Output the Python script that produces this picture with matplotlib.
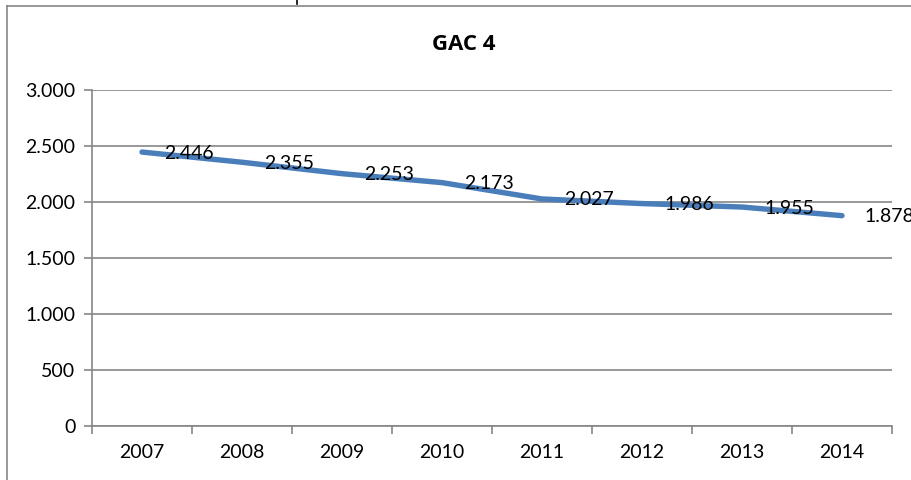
import matplotlib
matplotlib.use("Agg")
import matplotlib.pyplot as plt
from matplotlib.lines import Line2D

years = ["2007", "2008", "2009", "2010", "2011", "2012", "2013", "2014"]
values = [2446, 2355, 2253, 2173, 2027, 1986, 1955, 1878]
y_ticks = [0, 500, 1000, 1500, 2000, 2500, 3000]
y_tick_labels = ["0", "500", "1.000", "1.500", "2.000", "2.500", "3.000"]
title = "GAC 4"

W, H = 912, 480
plt.rcParams["font.family"] = ["Lato", "DejaVu Sans"]
grey = "#868686"
blue = "#4A7EBB"

fig = plt.figure(figsize=(W / 100, H / 100), dpi=100)
fig.patch.set_facecolor("white")

# chart frame (left and top edges visible)
fig.add_artist(Line2D([7 / W, 7 / W], [0, 1 - 6 / H], transform=fig.transFigure,
                      color=grey, lw=1.2))
fig.add_artist(Line2D([7 / W, 1], [1 - 6 / H, 1 - 6 / H], transform=fig.transFigure,
                      color=grey, lw=1.2))
fig.add_artist(Line2D([297 / W, 297 / W], [1, 1 - 4 / H], transform=fig.transFigure,
                      color="black", lw=1.2))

ax = fig.add_axes([92 / W, (H - 426) / H, 800 / W, 336 / H])
x = list(range(len(years)))
ax.plot(x, values, color=blue, lw=3.9, solid_capstyle="round", solid_joinstyle="round",
        zorder=3)
for xi, v in zip(x, values):
    lbl = f"{v:,}".replace(",", ".")
    ax.annotate(lbl, (xi, v), xytext=(22, -1), textcoords="offset pixels",
                ha="left", va="center", fontsize=14, color="black", zorder=4,
                annotation_clip=False)

ax.set_xlim(-0.5, len(years) - 0.5)
ax.set_ylim(0, 3000)
ax.set_yticks(y_ticks)
ax.set_yticklabels(y_tick_labels)
ax.set_xticks(x)
ax.set_xticklabels(years)
ax.set_xticks([i - 0.5 for i in range(len(years) + 1)], minor=True)
ax.tick_params(axis="x", which="major", length=0, pad=13, labelsize=14)
ax.tick_params(axis="x", which="minor", length=6, color=grey, width=1.2, direction="out")
ax.tick_params(axis="y", length=6, color=grey, width=1.2, pad=6, labelsize=14)
ax.grid(axis="y", color=grey, lw=1.2, zorder=0)
ax.set_axisbelow(True)
for s in ["top", "right"]:
    ax.spines[s].set_visible(False)
for s in ["left", "bottom"]:
    ax.spines[s].set_color(grey)
    ax.spines[s].set_linewidth(1.2)

fig.text(464 / W, 1 - 44 / H, title, ha="center", va="center", fontsize=16,
         fontweight="bold", family=["Open Sans", "DejaVu Sans"])

fig.savefig("out.png", dpi=100)
